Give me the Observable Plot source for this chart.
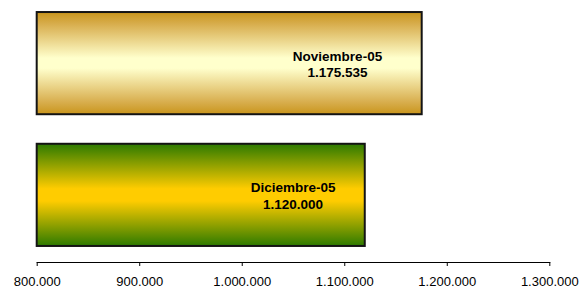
<!DOCTYPE html>
<html>
<head>
<meta charset="utf-8">
<script src="https://cdn.jsdelivr.net/npm/d3@7"></script>
<script src="https://cdn.jsdelivr.net/npm/@observablehq/plot@0.6"></script>
<style>
  html, body { margin: 0; padding: 0; background: #fff; }
  #chart svg { display: block; font-family: "Liberation Sans", Arial, sans-serif; }
</style>
</head>
<body>
<div id="chart"></div>
<script>
const months = ["Noviembre-05", "Diciembre-05"];
const values = [1175535, 1120000];
const xTicks = [800000, 900000, 1000000, 1100000, 1200000, 1300000];
const xDomain = [800000, 1300000];

const es = d3.formatLocale({decimal: ",", thousands: ".", grouping: [3], currency: ["", "€"]});
const fmt = es.format(",d");

const gradIds = ["gradGold", "gradGreen"];
const data = months.map((m, i) => ({month: m, value: values[i], fill: `url(#${gradIds[i]})`}));

const chart = Plot.plot({
  width: 585,
  height: 288,
  marginLeft: 36.7,
  marginRight: 35.7,
  marginTop: 0,
  marginBottom: 26,
  x: {domain: xDomain, ticks: xTicks, tickFormat: fmt, label: null, line: true, tickSize: 4, tickPadding: 10, fontSize: 13},
  y: {domain: months, range: [-4, 262], paddingInner: 0.2243, paddingOuter: 0.1217, axis: null, round: false},
  color: {type: "identity"},
  style: {fontFamily: "Liberation Sans, Arial, sans-serif", fontSize: "13px", color: "#000"},
  marks: [
    Plot.barX(data, {x1: xDomain[0], x2: "value", y: "month", fill: "fill", stroke: "#141414", strokeWidth: 2}),
    Plot.text(data, {
      x: d => xDomain[0] + 0.78 * (d.value - xDomain[0]),
      y: "month",
      text: d => `${d.month}\n${fmt(d.value)}`,
      fontWeight: "bold",
      fontSize: 13.5,
      lineHeight: 1.2,
      fill: "#000"
    })
  ]
});

const svg = d3.select(chart);
const defs = svg.insert("defs", ":first-child");
const gold = defs.append("linearGradient").attr("id", "gradGold").attr("x1", 0).attr("y1", 0).attr("x2", 0).attr("y2", 1);
[[0, "#C9951C"], [0.12, "#D8AE4E"], [0.45, "#FFFFCC"], [0.55, "#FFFFCC"], [0.88, "#D8AE4E"], [1, "#C9951C"]]
  .forEach(([o, c]) => gold.append("stop").attr("offset", o).attr("stop-color", c));
const green = defs.append("linearGradient").attr("id", "gradGreen").attr("x1", 0).attr("y1", 0).attr("x2", 0).attr("y2", 1);
[[0, "#2D7A00"], [0.44, "#FFCC00"], [0.56, "#FFCC00"], [1, "#2D7A00"]]
  .forEach(([o, c]) => green.append("stop").attr("offset", o).attr("stop-color", c));

document.getElementById("chart").appendChild(chart);
</script>
</body>
</html>
